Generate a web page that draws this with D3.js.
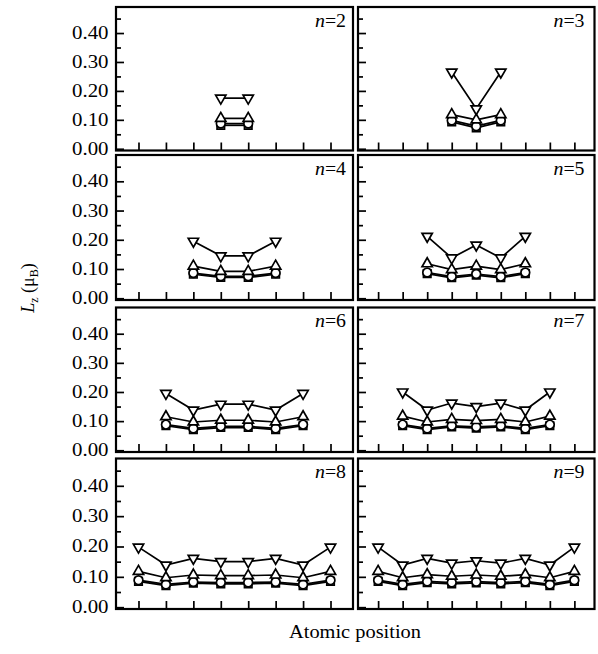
<!DOCTYPE html>
<html>
<head>
<meta charset="utf-8">
<script src="https://cdn.jsdelivr.net/npm/d3@7"></script>
<style>
  html, body { margin: 0; padding: 0; background: #fff; }
  svg { display: block; }
  text { font-family: "Liberation Serif", "Times New Roman", Times, serif; fill: #000; }
</style>
</head>
<body>
<svg id="chart" width="598" height="654"></svg>
<script>
// Orbital moment L_z per atom along chains of n atoms (n = 2 ... 9)
const chainSizes = [2, 3, 4, 5, 6, 7, 8, 9];
const panelLabels = ["n=2", "n=3", "n=4", "n=5", "n=6", "n=7", "n=8", "n=9"];

// series drawn with down-pointing triangles
const lzDownTri = [
  [0.175, 0.175],
  [0.265, 0.138, 0.265],
  [0.195, 0.145, 0.145, 0.195],
  [0.212, 0.138, 0.182, 0.138, 0.212],
  [0.195, 0.138, 0.158, 0.158, 0.138, 0.195],
  [0.200, 0.138, 0.162, 0.150, 0.162, 0.138, 0.200],
  [0.198, 0.139, 0.161, 0.150, 0.150, 0.161, 0.139, 0.198],
  [0.198, 0.139, 0.161, 0.145, 0.153, 0.145, 0.161, 0.139, 0.198]
];
// series drawn with up-pointing triangles
const lzUpTri = [
  [0.105, 0.105],
  [0.118, 0.100, 0.118],
  [0.110, 0.092, 0.092, 0.110],
  [0.118, 0.098, 0.110, 0.098, 0.118],
  [0.115, 0.097, 0.103, 0.103, 0.097, 0.115],
  [0.117, 0.097, 0.106, 0.102, 0.106, 0.097, 0.117],
  [0.118, 0.097, 0.106, 0.104, 0.104, 0.106, 0.097, 0.118],
  [0.118, 0.097, 0.107, 0.102, 0.106, 0.102, 0.107, 0.097, 0.118]
];
// series drawn with circles
const lzCircle = [
  [0.087, 0.087],
  [0.098, 0.078, 0.098],
  [0.086, 0.075, 0.075, 0.086],
  [0.088, 0.074, 0.083, 0.074, 0.088],
  [0.088, 0.075, 0.082, 0.082, 0.075, 0.088],
  [0.088, 0.075, 0.084, 0.080, 0.084, 0.075, 0.088],
  [0.089, 0.075, 0.083, 0.081, 0.081, 0.083, 0.075, 0.089],
  [0.089, 0.075, 0.085, 0.081, 0.084, 0.081, 0.085, 0.075, 0.089]
];
// series drawn with squares
const lzSquare = [
  [0.081, 0.081],
  [0.093, 0.072, 0.093],
  [0.082, 0.071, 0.071, 0.082],
  [0.084, 0.070, 0.079, 0.070, 0.084],
  [0.084, 0.071, 0.078, 0.078, 0.071, 0.084],
  [0.084, 0.071, 0.080, 0.076, 0.080, 0.071, 0.084],
  [0.085, 0.071, 0.079, 0.077, 0.077, 0.079, 0.071, 0.085],
  [0.085, 0.071, 0.081, 0.077, 0.080, 0.077, 0.081, 0.071, 0.085]
];

const yMajorTicks = [0, 0.1, 0.2, 0.3, 0.4];
const yMinorTicks = [0.05, 0.15, 0.25, 0.35, 0.45];
const yTickLabels = ["0.00", "0.10", "0.20", "0.30", "0.40"];
const xLabel = "Atomic position";

// ---- layout ----
const cols = [{ x0: 116, x1: 353, labelInset: 7 }, { x0: 358, x1: 594.5, labelInset: 10 }];
const rows = [
  { y0: 7, y1: 150.5 },
  { y0: 155, y1: 300 },
  { y0: 307.5, y1: 452 },
  { y0: 458.5, y1: 609 }
];

const svg = d3.select("#chart");

// series drawn back to front
const seriesDefs = [
  { data: lzSquare, symbol: d3.symbolSquare, size: 56, rotate: 0 },
  { data: lzCircle, symbol: d3.symbolCircle, size: 60, rotate: 0 },
  { data: lzUpTri, symbol: d3.symbolTriangle, size: 46, rotate: 0 },
  { data: lzDownTri, symbol: d3.symbolTriangle, size: 46, rotate: 180 }
];

chainSizes.forEach((n, i) => {
  const col = cols[i % 2];
  const row = rows[Math.floor(i / 2)];
  const nSites = (n % 2 === 0) ? 8 : 9;      // tick count on the position axis
  const offset = (nSites - n) / 2;           // chain centred on the axis

  const x = d3.scaleLinear().domain([1 - 0.82, nSites + 0.82]).range([col.x0, col.x1]);
  const y = d3.scaleLinear().domain([-0.006, 0.49]).range([row.y1, row.y0]);

  const g = svg.append("g");

  // y ticks (inward), major + minor
  const yAxisMajor = d3.axisRight(y).tickValues(yMajorTicks).tickSize(8).tickFormat("");
  const yAxisMinor = d3.axisRight(y).tickValues(yMinorTicks).tickSize(5).tickFormat("");
  [yAxisMajor, yAxisMinor].forEach(ax => {
    const a = g.append("g").attr("transform", `translate(${col.x0},0)`).call(ax);
    a.select(".domain").remove();
    a.selectAll("line").attr("stroke", "#000").attr("stroke-width", 1.7);
  });

  // x ticks (inward)
  const xAxis = d3.axisTop(x).tickValues(d3.range(1, nSites + 1)).tickSize(8).tickFormat("");
  const xa = g.append("g").attr("transform", `translate(0,${row.y1})`).call(xAxis);
  xa.select(".domain").remove();
  xa.selectAll("line").attr("stroke", "#000").attr("stroke-width", 1.7);

  // y tick labels on the left column only
  if (i % 2 === 0) {
    g.selectAll("text.ylab")
      .data(yMajorTicks)
      .join("text")
      .attr("class", "ylab")
      .attr("x", 108.5)
      .attr("y", d => y(d) + 6)
      .attr("text-anchor", "end")
      .attr("font-size", 18)
      .attr("textLength", 36.5)
      .attr("lengthAdjust", "spacingAndGlyphs")
      .text((d, k) => yTickLabels[k]);
  }

  // series lines and markers
  const line = d3.line().x(d => x(d.pos)).y(d => y(d.v));
  seriesDefs.forEach(s => {
    const pts = s.data[i].map((v, k) => ({ pos: k + 1 + offset, v }));
    g.append("path")
      .attr("d", line(pts))
      .attr("fill", "none")
      .attr("stroke", "#000")
      .attr("stroke-width", 1.7);
    g.selectAll(null)
      .data(pts)
      .join("path")
      .attr("d", d3.symbol().type(s.symbol).size(s.size))
      .attr("transform", d => `translate(${x(d.pos)},${y(d.v)}) rotate(${s.rotate})`)
      .attr("fill", "#fff")
      .attr("stroke", "#000")
      .attr("stroke-width", 1.7);
  });

  // frame
  g.append("rect")
    .attr("x", col.x0).attr("y", row.y0)
    .attr("width", col.x1 - col.x0).attr("height", row.y1 - row.y0)
    .attr("fill", "none").attr("stroke", "#000").attr("stroke-width", 2.2);

  // panel label, italic n
  const lab = g.append("text")
    .attr("x", col.x1 - col.labelInset)
    .attr("y", row.y0 + 19.5)
    .attr("text-anchor", "end")
    .attr("font-size", 19)
    .attr("textLength", 31)
    .attr("lengthAdjust", "spacingAndGlyphs");
  lab.append("tspan").attr("font-style", "italic").text(panelLabels[i].split("=")[0]);
  lab.append("tspan").text("=" + panelLabels[i].split("=")[1]);
});

// y axis title: L_z (μ_B)
const yt = svg.append("text")
  .attr("transform", "translate(34,288) rotate(-90)")
  .attr("text-anchor", "middle")
  .attr("font-size", 18);
yt.append("tspan").attr("font-style", "italic").text("L");
yt.append("tspan").attr("font-size", 12).attr("dy", 4).text("z");
yt.append("tspan").attr("dy", -4).text(" (μ");
yt.append("tspan").attr("font-size", 12).attr("dy", 4).text("B");
yt.append("tspan").attr("dy", -4).text(")");

// x axis title
svg.append("text")
  .attr("x", 355)
  .attr("y", 638)
  .attr("text-anchor", "middle")
  .attr("font-size", 19)
  .attr("textLength", 132)
  .attr("lengthAdjust", "spacingAndGlyphs")
  .text(xLabel);
</script>
</body>
</html>
